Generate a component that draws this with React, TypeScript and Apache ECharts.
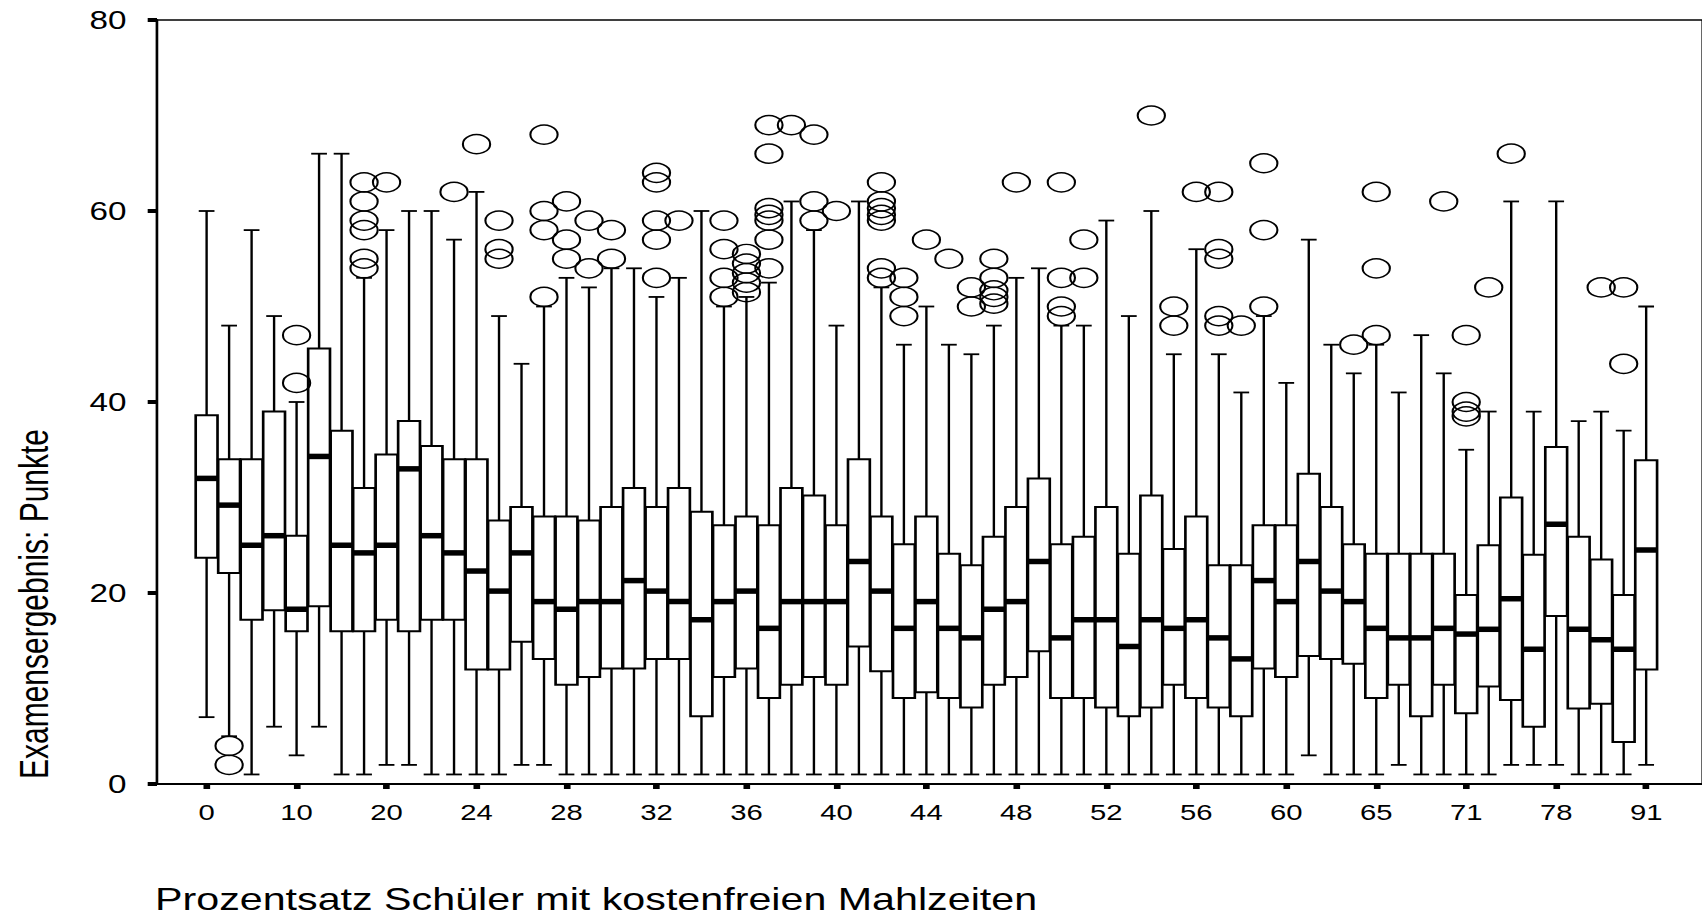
import React, { useEffect, useRef } from "react";
import * as echarts from "echarts";

// x tick labels (one every 4th box)
const tickLabels = ["0", "10", "20", "24", "28", "32", "36", "40", "44", "48", "52", "56", "60", "65", "71", "78", "91"];

// box statistics per category (65 boxes, left to right)
const lowerWhisker = [7, 5, 1, 6, 3, 6, 1, 1, 2, 2, 1, 1, 1, 1, 2, 2, 1, 1, 1, 1, 1, 1, 1, 1, 1, 1, 1, 1, 1, 1, 1, 1, 1, 1, 1, 1, 1, 1, 1, 1, 1, 1, 1, 1, 1, 1, 1, 1, 1, 3, 1, 1, 1, 2, 1, 1, 1, 1, 2, 2, 2, 1, 1, 1, 2];
const q1 = [23.7, 22.1, 17.2, 18.2, 16, 18.6, 16, 16, 17.2, 16, 17.2, 17.2, 12, 12, 14.9, 13.1, 10.4, 11.2, 12.1, 12.1, 13.1, 13.1, 7.1, 11.2, 12.1, 9, 10.4, 11.2, 10.4, 14.4, 11.8, 9, 9.6, 9, 8, 10.4, 11.2, 13.9, 9, 9, 8, 7.1, 8, 10.4, 9, 8, 7.1, 12.1, 11.2, 13.4, 13.1, 12.6, 9, 10.4, 7.1, 10.4, 7.4, 10.2, 8.8, 6, 17.6, 7.9, 8.4, 4.4, 12];
const median = [32, 29.2, 25, 26, 18.3, 34.3, 25, 24.2, 25, 33, 26, 24.2, 22.3, 20.2, 24.2, 19.1, 18.3, 19.1, 19.1, 21.3, 20.2, 19.1, 17.2, 19.1, 20.2, 16.3, 19.1, 19.1, 19.1, 23.3, 20.2, 16.3, 19.1, 16.3, 15.3, 18.3, 19.1, 23.3, 15.3, 17.2, 17.2, 14.4, 17.2, 16.3, 17.2, 15.3, 13.1, 21.3, 19.1, 23.3, 20.2, 19.1, 16.3, 15.3, 15.3, 16.3, 15.7, 16.2, 19.4, 14.1, 27.2, 16.2, 15.1, 14.1, 24.5];
const q3 = [38.6, 34, 34, 39, 26, 45.6, 37, 31, 34.5, 38, 35.4, 34, 34, 27.6, 29, 28, 28, 27.6, 29, 31, 29, 31, 28.5, 27.1, 28, 27.1, 31, 30.2, 27.1, 34, 28, 25.1, 28, 24.1, 22.9, 25.9, 29, 32, 25.1, 25.9, 29, 24.1, 30.2, 24.6, 28, 22.9, 22.9, 27.1, 27.1, 32.5, 29, 25.1, 24.1, 24.1, 24.1, 24.1, 19.8, 25, 30, 24, 35.3, 25.9, 23.5, 19.8, 33.9];
const upperWhisker = [60, 48, 58, 49, 40, 66, 66, 53, 58, 60, 60, 57, 62, 49, 44, 50, 53, 52, 54, 54, 51, 53, 60, 50, 51, 52.5, 61, 58, 48, 61, 52, 46, 50, 46, 45, 48, 53, 54, 48, 48, 59, 49, 60, 45, 56, 45, 41, 49, 42, 57, 46, 43, 46, 41, 47, 43, 35, 39, 61, 39, 61, 38, 39, 37, 50];
const outliers: number[][] = [
  [], [4, 2], [], [], [47, 42], [], [], [63, 61, 59, 58, 55, 54], [63], [],
  [], [62], [67], [59, 56, 55], [], [68, 60, 58, 51], [61, 57, 55], [59, 54], [58, 55], [],
  [64, 63, 59, 57, 53], [59], [], [59, 56, 53, 51], [55.5, 54.5, 53.5, 52.5, 51.5], [69, 66, 60.3, 59.6, 59, 57, 54], [69], [68, 61, 59], [60], [],
  [63, 61, 60.3, 59.6, 59, 54, 53], [53, 51, 49], [57], [55], [52, 50], [55, 53, 51.7, 51, 50.3], [63], [], [63, 53, 50, 49], [57, 53],
  [], [], [70], [50, 48], [62], [62, 56, 55, 49, 48], [48], [65, 58, 50], [], [],
  [], [46], [62, 54, 47], [], [], [61], [47, 40, 39, 38.5], [52], [66], [],
  [], [], [52], [52, 44], [],
];

const yTitle = "Examensergebnis: Punkte";
const xTitle = "Prozentsatz Schüler mit kostenfreien Mahlzeiten";

// The reference raster is stretched horizontally; emulate with a CSS scaleX.
const STRETCH = 1.33;
const W = 1280;
const H = 920;
const FONT = "'Liberation Sans', Arial, Helvetica, sans-serif";

export default function App() {
  const ref = useRef<HTMLDivElement>(null);

  useEffect(() => {
    if (!ref.current) return;
    const chart = echarts.init(ref.current, null, { renderer: "svg" });

    const boxData = q1.map((_, i) => [i, lowerWhisker[i], q1[i], median[i], q3[i], upperWhisker[i]]);
    const outlierData: number[][] = [];
    outliers.forEach((arr, i) => arr.forEach((v) => outlierData.push([i, v])));
    const tickPos = tickLabels.map((_, k) => k * 4);

    const band = 22.67 / STRETCH; // px per category (css units)
    const first = 207 / STRETCH;
    const left = 157 / STRETCH;
    const xMin = -(first - left) / band;
    const xMax = 66.5;

    const option: any = {
      animation: false,
      backgroundColor: "#fff",
      grid: {
        left: left,
        top: 20,
        width: (xMax - xMin) * band,
        height: 764,
        show: true,
        borderColor: "#000",
        borderWidth: 1.5,
        containLabel: false,
      },
      xAxis: {
        type: "value",
        min: xMin,
        max: xMax,
        splitLine: { show: false },
        axisLine: { show: true, onZero: false, lineStyle: { color: "#000", width: 2 } },
        axisTick: { show: true, customValues: tickPos, length: 5, lineStyle: { color: "#000", width: 5 } },
        axisLabel: {
          show: true,
          customValues: tickPos,
          formatter: (v: number) => tickLabels[Math.round(v / 4)] ?? "",
          fontSize: 22,
          fontFamily: FONT,
          color: "#000",
          margin: 17,
        },
      },
      yAxis: {
        type: "value",
        min: 0,
        max: 80,
        interval: 20,
        splitLine: { show: false },
        axisLine: { show: true, onZero: false, lineStyle: { color: "#000", width: 2 } },
        axisTick: { show: true, length: 7, lineStyle: { color: "#000", width: 4 } },
        axisLabel: { fontSize: 25, fontFamily: FONT, color: "#000", margin: 23 },
      },
      graphic: [
        {
          type: "text",
          x: 34 / STRETCH,
          y: 604,
          rotation: Math.PI / 2,
          style: { text: yTitle, fontSize: 30, fontFamily: FONT, fill: "#000", align: "center", verticalAlign: "middle" },
        },
        {
          type: "text",
          x: 155 / STRETCH,
          y: 899,
          style: { text: xTitle, fontSize: 31, fontFamily: FONT, fill: "#000", align: "left", verticalAlign: "middle" },
        },
      ],
      series: [
        {
          type: "custom",
          data: boxData,
          dimensions: ["i", "lo", "q1", "med", "q3", "hi"],
          encode: { x: 0, y: [1, 2, 3, 4, 5] },
          clip: false,
          renderItem: (params: any, api: any) => {
            const i = api.value(0);
            const lo = api.coord([i, api.value(1)]);
            const b1 = api.coord([i, api.value(2)]);
            const md = api.coord([i, api.value(3)]);
            const b3 = api.coord([i, api.value(4)]);
            const hi = api.coord([i, api.value(5)]);
            const bw = api.size([1, 0])[0];
            const boxW = bw * 0.97;
            const capW = bw * 0.7;
            const x = lo[0];
            const ws = { stroke: "#000", lineWidth: 1.8 };
            return {
              type: "group",
              children: [
                { type: "line", shape: { x1: x, y1: b3[1], x2: x, y2: hi[1] }, style: ws },
                { type: "line", shape: { x1: x - capW / 2, y1: hi[1], x2: x + capW / 2, y2: hi[1] }, style: ws },
                { type: "line", shape: { x1: x, y1: b1[1], x2: x, y2: lo[1] }, style: ws },
                { type: "line", shape: { x1: x - capW / 2, y1: lo[1], x2: x + capW / 2, y2: lo[1] }, style: ws },
                {
                  type: "rect",
                  shape: { x: x - boxW / 2, y: b3[1], width: boxW, height: b1[1] - b3[1] },
                  style: { fill: "#fff", stroke: "#000", lineWidth: 2 },
                },
                {
                  type: "rect",
                  shape: { x: x - boxW / 2, y: md[1] - 2.75, width: boxW, height: 5.5 },
                  style: { fill: "#000" },
                },
              ],
            };
          },
          z: 2,
        },
        {
          type: "scatter",
          data: outlierData,
          symbol: "circle",
          symbolSize: [20.5, 19],
          itemStyle: { color: "rgba(0,0,0,0)", borderColor: "#000", borderWidth: 1.5, opacity: 1 },
          z: 3,
        },
      ],
    };

    chart.setOption(option);
    return () => chart.dispose();
  }, []);

  return (
    <div
      ref={ref}
      style={{
        position: "fixed",
        left: 0,
        top: 0,
        width: W,
        height: H,
        transform: `scaleX(${STRETCH})`,
        transformOrigin: "0 0",
        background: "#fff",
      }}
    />
  );
}
